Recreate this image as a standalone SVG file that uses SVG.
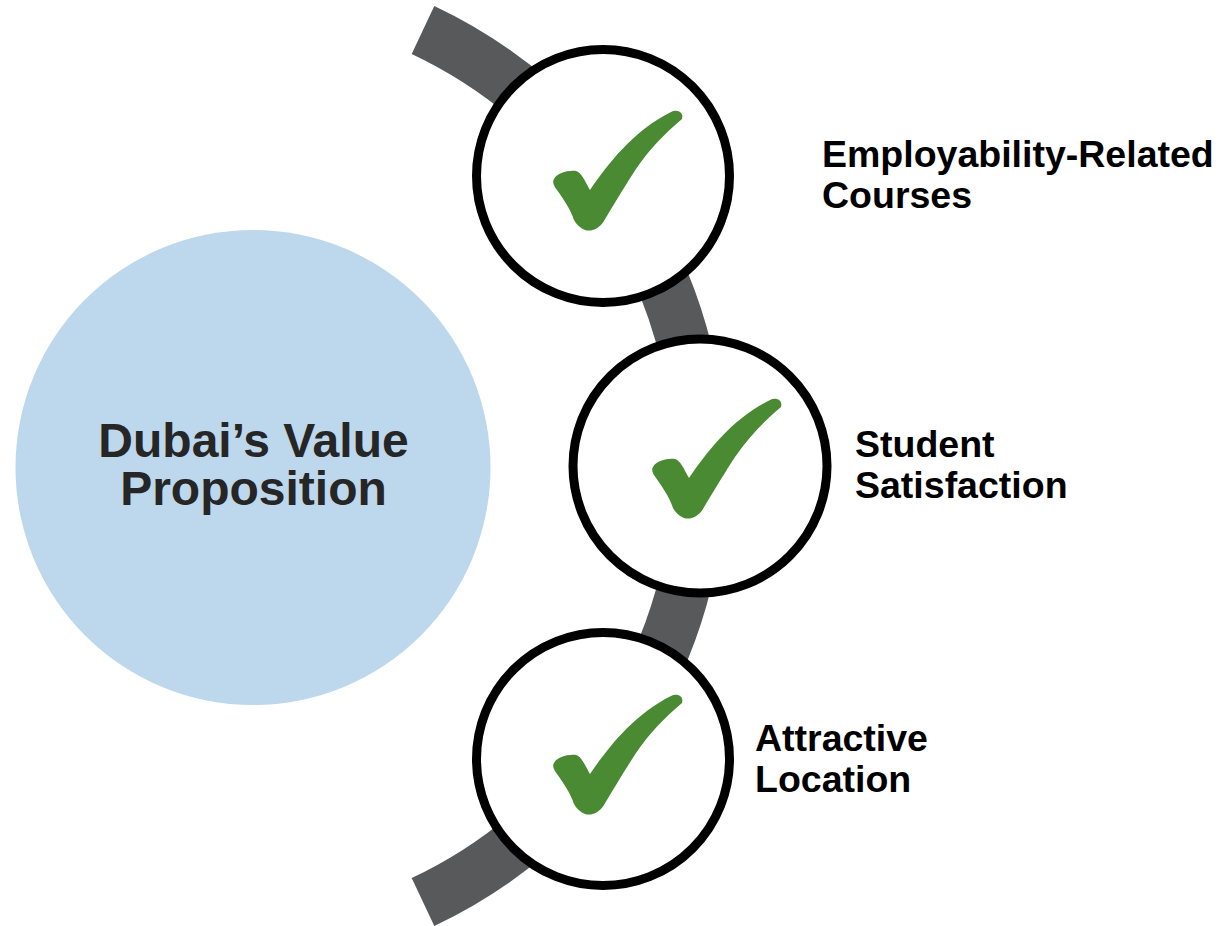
<svg xmlns="http://www.w3.org/2000/svg" width="1227" height="926" viewBox="0 0 1227 926">
  <style>
    .label { font-family: "Liberation Sans", Arial, sans-serif; font-weight: bold; font-size: 37.5px; fill: #000000; }
    .title { font-family: "Liberation Sans", Arial, sans-serif; font-weight: bold; font-size: 48px; fill: #262626; text-anchor: middle; }
    .ring { fill: #ffffff; stroke: #000000; stroke-width: 9; }
    .check { fill: #4A8A33; }
  </style>
  <defs>
    <filter id="soft" x="-20%" y="-20%" width="140%" height="140%">
      <feGaussianBlur stdDeviation="0.6"/>
    </filter>
    <!-- tick mark drawn around the centre of a ring -->
    <path id="tick" class="check" filter="url(#soft)"
      d="M -49,3
         C -46,-3 -35,-6 -27,-5
         C -22,-4 -18,5 -13,14
         C 5,-12 30,-45 68,-64
         C 74,-67 81,-64 79,-57
         C 61,-42 46,-26 33,-7
         C 20,13 7,35 1,45
         C -4,53 -12,56 -18,54
         C -23,52 -27,48 -29,44
         C -33,32 -41,21 -46,14
         C -49,10 -51,6 -49,3 Z"/>
  </defs>

  <rect width="1227" height="926" fill="#ffffff"/>

  <!-- central proposition -->
  <g id="node-center">
    <circle cx="253" cy="467.5" r="237.5" fill="#BDD7EC"/>
    <text class="title" x="253.5" y="457">Dubai’s Value</text>
    <text class="title" x="253.5" y="505">Proposition</text>
  </g>

  <!-- connecting arc -->
  <g id="connectors">
    <path d="M 423 30 A 482 482 0 0 1 423 902" fill="none" stroke="#58595B" stroke-width="53"/>
  </g>

  <g id="node-employability">
    <circle class="ring" cx="603" cy="176" r="126.5"/>
    <use href="#tick" transform="translate(603 176)"/>
    <text class="label" x="822" y="167">Employability-Related</text>
    <text class="label" x="822" y="208">Courses</text>
  </g>

  <g id="node-satisfaction">
    <circle class="ring" cx="700" cy="466" r="127"/>
    <use href="#tick" transform="translate(702 464)"/>
    <text class="label" x="855" y="457">Student</text>
    <text class="label" x="855" y="498">Satisfaction</text>
  </g>

  <g id="node-location">
    <circle class="ring" cx="603" cy="759" r="126.5"/>
    <use href="#tick" transform="translate(603 760)"/>
    <text class="label" x="755" y="751">Attractive</text>
    <text class="label" x="755" y="792">Location</text>
  </g>
</svg>
